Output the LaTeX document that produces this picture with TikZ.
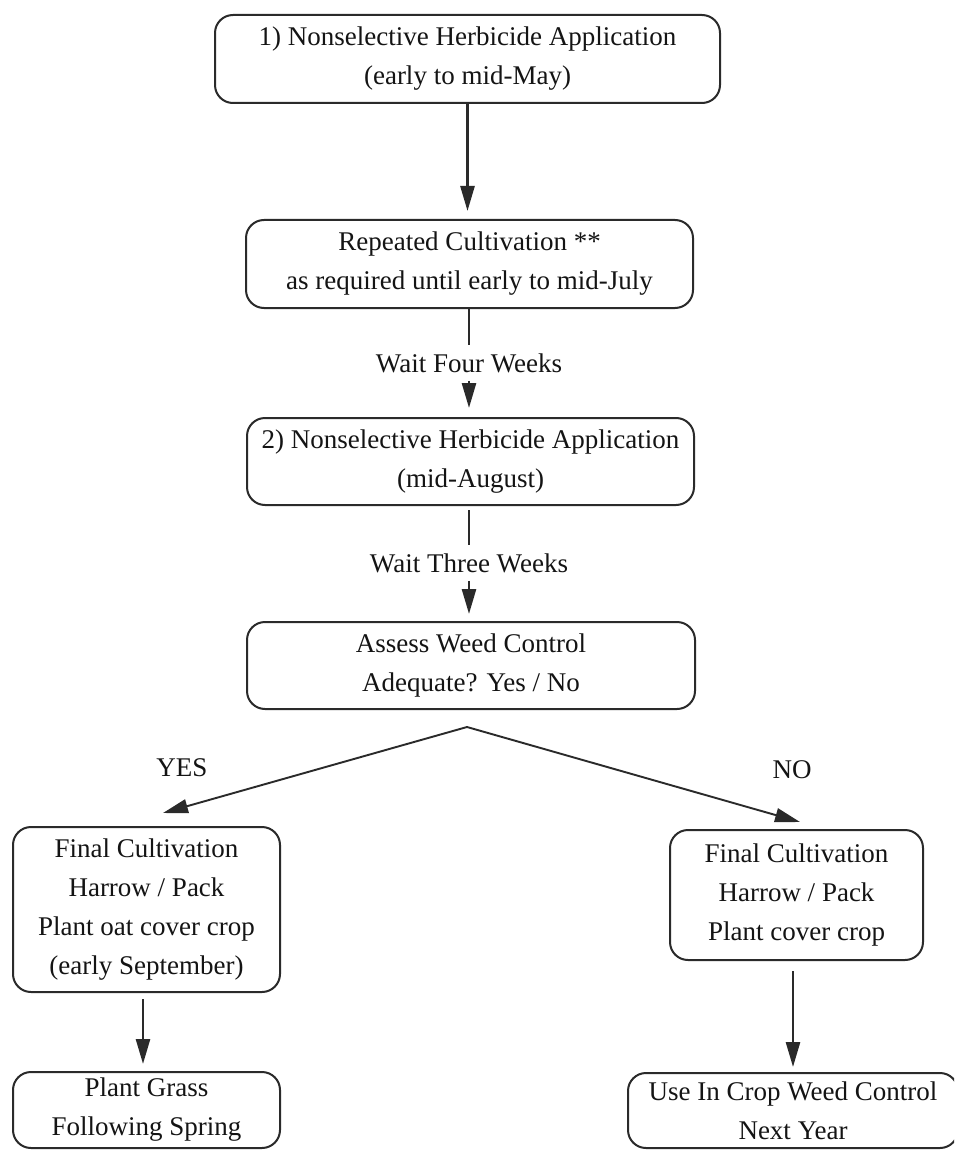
\documentclass[tikz,border=0pt]{standalone}
\usepackage{fontspec}
\setmainfont{Liberation Serif}
\usetikzlibrary{arrows.meta}
\definecolor{linegray}{HTML}{2A2A2A}
\definecolor{inkgray}{HTML}{141414}
\begin{document}
\begin{tikzpicture}[x=1pt,y=-1pt,
  every node/.style={font=\fontsize{27}{39}\selectfont, text=inkgray},
  box/.style={draw=linegray, line width=2pt, rounded corners=18pt,
              align=center, inner sep=0pt},
  conn/.style={draw=linegray, line width=2.6pt},
  arr/.style={conn, -{Triangle[length=25pt,width=14pt]}},
  slant/.style={draw=linegray, line width=1.9pt, -{Triangle[length=25pt,width=14pt]}},
  lbl/.style={inner xsep=0pt, inner ysep=8pt}]
\clip (0,0) rectangle (954,1150);
\fill[white] (0,0) rectangle (954,1150);

% main column
\node[box, minimum width=505pt, minimum height=88pt] (b1) at (467.5,59)
  {1) Nonselective Herbicide Application\\(early to mid-May)};
\node[box, minimum width=447pt, minimum height=88pt] (b2) at (469.5,264)
  {Repeated Cultivation **\\as required until early to mid-July};
\node[box, minimum width=447pt, minimum height=87pt] (b3) at (470.5,461.5)
  {2) Nonselective Herbicide Application\\(mid-August)};
\node[box, minimum width=448pt, minimum height=87pt] (b4) at (471,665.5)
  {Assess Weed Control\\Adequate? Yes / No};

% waiting labels on the connectors
\node[lbl] (w1) at (469,363) {Wait Four Weeks};
\node[lbl] (w2) at (469,563) {Wait Three Weeks};

% branch outcomes
\node[box, minimum width=267pt, minimum height=165pt] (yes1) at (146.5,909.5)
  {Final Cultivation\\Harrow / Pack\\Plant oat cover crop\\(early September)};
\node[box, minimum width=267pt, minimum height=76pt] (yes2) at (146.5,1110)
  {Plant Grass\\Following Spring};
\node[box, minimum width=253pt, minimum height=130pt] (no1) at (796.5,895)
  {Final Cultivation\\Harrow / Pack\\Plant cover crop};
\node[box, minimum width=330pt, minimum height=75pt] (no2) at (793,1110.5)
  {Use In Crop Weed Control\\Next Year};

\node (yeslbl) at (182,768) {YES};
\node (nolbl) at (792,770) {NO};

% connectors
\draw[arr, shorten >=8pt] (b1.south) -- (b1.south |- b2.north);
\draw[conn] (w1.north |- b2.south) -- (w1.north);
\draw[arr, shorten >=9pt] (w1.south) -- (w1.south |- b3.north);
\draw[conn, shorten <=4pt] (w2.north |- b3.south) -- (w2.north);
\draw[arr, shorten >=7pt] (w2.south) -- (w2.south |- b4.north);

\coordinate (fork) at (467,727);
\coordinate (yestip) at (163,813);
\coordinate (notip) at (800,822);
\draw[slant] (fork) -- (yestip);
\draw[slant] (fork) -- (notip);

\draw[arr, shorten <=6pt, shorten >=7pt] (yes1.south -| 143,0) -- (yes2.north -| 143,0);
\draw[arr, shorten <=10pt, shorten >=5pt] (no1.south -| no2.north) -- (no2.north);
\end{tikzpicture}
\end{document}
